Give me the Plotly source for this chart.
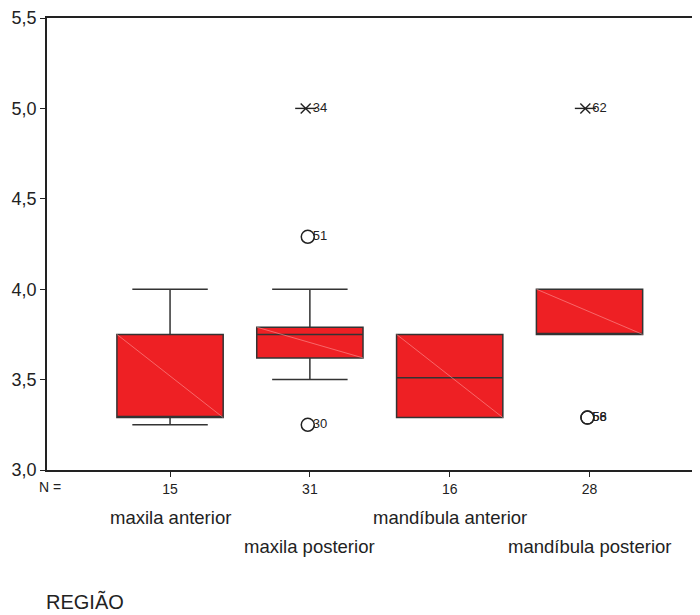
import plotly.graph_objects as go

categories = ["maxila anterior", "maxila posterior", "mandíbula anterior", "mandíbula posterior"]
n_labels = ["15", "31", "16", "28"]
q1 = [3.29, 3.62, 3.29, 3.75]
median = [3.29, 3.75, 3.51, 3.75]
q3 = [3.75, 3.79, 3.75, 4.00]
lower = [3.25, 3.50, 3.29, 3.75]
upper = [4.00, 4.00, 3.75, 4.00]

# outliers: (category index, value, case label, kind)
out_cat = [1, 1, 1, 3, 3, 3]
out_val = [5.0, 4.29, 3.25, 5.0, 3.29, 3.29]
out_lab = ["34", "51", "30", "62", "56", "58"]
out_kind = ["extreme", "outlier", "outlier", "extreme", "outlier", "outlier"]

ytick_vals = [3.0, 3.5, 4.0, 4.5, 5.0, 5.5]
ytick_text = ["3,0", "3,5", "4,0", "4,5", "5,0", "5,5"]

BOXW = 0.76
fig = go.Figure()
for i in range(len(categories)):
    fig.add_trace(go.Box(
        x=[i], q1=[q1[i]], median=[median[i]], q3=[q3[i]],
        lowerfence=[lower[i]], upperfence=[upper[i]],
        width=BOXW, whiskerwidth=0.71,
        fillcolor="#ee2024", line=dict(color="#333333", width=1.5),
        boxpoints=False, showlegend=False, hoverinfo="skip"))
    # faint rendering diagonal inside the box
    fig.add_trace(go.Scatter(
        x=[i - BOXW / 2, i + BOXW / 2], y=[q3[i], q1[i]], mode="lines",
        line=dict(color="rgba(255,160,160,0.8)", width=0.7),
        showlegend=False, hoverinfo="skip"))

ex_x = [out_cat[k] - 0.03 for k in range(len(out_val)) if out_kind[k] == "extreme"]
ex_y = [out_val[k] for k in range(len(out_val)) if out_kind[k] == "extreme"]
ol_x = [out_cat[k] - 0.015 for k in range(len(out_val)) if out_kind[k] == "outlier"]
ol_y = [out_val[k] for k in range(len(out_val)) if out_kind[k] == "outlier"]
# extreme values: SPSS-style star (x with horizontal bar)
fig.add_trace(go.Scatter(
    x=ex_x, y=ex_y, mode="markers",
    marker=dict(symbol="x-thin-open", size=10, color="#222222",
                line=dict(color="#222222", width=1.4)),
    showlegend=False, hoverinfo="skip"))
fig.add_trace(go.Scatter(
    x=ex_x, y=ex_y, mode="markers",
    marker=dict(symbol="line-ew-open", size=15, color="#222222",
                line=dict(color="#222222", width=1.4)),
    showlegend=False, hoverinfo="skip"))
fig.add_trace(go.Scatter(
    x=ol_x, y=ol_y, mode="markers",
    marker=dict(symbol="circle-open", size=13, color="#222222",
                line=dict(color="#222222", width=1.5)),
    showlegend=False, hoverinfo="skip"))

fig.add_trace(go.Scatter(
    x=[c + 0.02 for c in out_cat], y=out_val, mode="text", text=out_lab,
    textposition="middle right",
    textfont=dict(family="Liberation Sans, Arial, sans-serif", size=13, color="#222222"),
    showlegend=False, hoverinfo="skip"))

font = "Liberation Sans, Arial, sans-serif"
annotations = []
rows = [-0.106, -0.170]
for i, c in enumerate(categories):
    annotations.append(dict(x=i, y=rows[i % 2], xref="x", yref="paper", text=c,
                            showarrow=False, xanchor="center", yanchor="middle",
                            font=dict(family=font, size=18.5, color="#222222")))
annotations.append(dict(x=0.005, y=-0.038, xref="paper", yref="paper", text="N =",
                        showarrow=False, xanchor="center", yanchor="middle",
                        font=dict(family=font, size=14, color="#222222")))
annotations.append(dict(x=0.058, y=-0.292, xref="paper", yref="paper", text="REGIÃO",
                        showarrow=False, xanchor="center", yanchor="middle",
                        font=dict(family=font, size=20, color="#222222")))

fig.update_layout(
    width=692, height=607,
    margin=dict(l=39, r=0, t=10, b=145),
    paper_bgcolor="white", plot_bgcolor="white",
    annotations=annotations,
    xaxis=dict(range=[-0.88, 3.79], tickvals=list(range(len(categories))), ticktext=n_labels,
               showgrid=False, zeroline=False, showline=True, mirror=True,
               linecolor="#222222", linewidth=1.5, ticks="outside", ticklen=5,
               tickcolor="#222222", tickfont=dict(family=font, size=14, color="#222222")),
    yaxis=dict(range=[3.0, 5.5], tickvals=ytick_vals, ticktext=ytick_text,
               showgrid=False, zeroline=False, showline=True,
               linecolor="#222222", linewidth=1.5, ticks="outside", ticklen=5,
               ticklabeloverflow="allow",
               tickcolor="#222222", tickfont=dict(family=font, size=18, color="#222222")),
)

fig.write_html("out.html")
